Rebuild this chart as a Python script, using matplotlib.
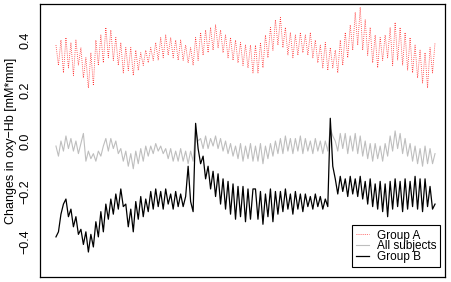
import numpy as np
import matplotlib
matplotlib.use("Agg")
import matplotlib.pyplot as plt

plt.rcParams['font.family'] = ['Liberation Sans', 'DejaVu Sans']

# mean oxy-Hb change per sample
group_a = [
    0.38, 0.30, 0.40, 0.27, 0.41, 0.29, 0.39, 0.26, 0.40, 0.30,
    0.37, 0.25, 0.33, 0.21, 0.35, 0.22, 0.40, 0.30, 0.42, 0.31,
    0.45, 0.33, 0.44, 0.32, 0.41, 0.30, 0.39, 0.27, 0.37, 0.28,
    0.37, 0.26, 0.36, 0.28, 0.35, 0.30, 0.36, 0.31, 0.37, 0.32,
    0.39, 0.32, 0.41, 0.33, 0.42, 0.34, 0.41, 0.33, 0.40, 0.32,
    0.40, 0.32, 0.38, 0.31, 0.37, 0.30, 0.41, 0.32, 0.43, 0.34,
    0.44, 0.35, 0.45, 0.36, 0.46, 0.37, 0.44, 0.35, 0.42, 0.33,
    0.41, 0.32, 0.40, 0.31, 0.39, 0.30, 0.38, 0.29, 0.38, 0.27,
    0.38, 0.27, 0.39, 0.29, 0.42, 0.33, 0.45, 0.36, 0.48, 0.38,
    0.49, 0.37, 0.45, 0.34, 0.43, 0.33, 0.42, 0.34, 0.43, 0.35,
    0.42, 0.34, 0.43, 0.33, 0.40, 0.31, 0.38, 0.29, 0.39, 0.28,
    0.37, 0.29, 0.36, 0.27, 0.40, 0.30, 0.43, 0.33, 0.46, 0.36,
    0.51, 0.38, 0.53, 0.36, 0.48, 0.34, 0.45, 0.31, 0.42, 0.29,
    0.41, 0.32, 0.42, 0.33, 0.45, 0.30, 0.47, 0.32, 0.45, 0.30,
    0.43, 0.28, 0.41, 0.27, 0.38, 0.25, 0.36, 0.23, 0.35, 0.21,
    0.37, 0.27, 0.39,
]

all_subjects = [
    -0.02, -0.06, 0.00, -0.04, 0.02, -0.03, 0.01, -0.04, 0.00, -0.05,
    -0.01, 0.03, -0.08, -0.04, -0.07, -0.05, -0.08, -0.04, -0.06, -0.02,
    0.01, -0.04, 0.01, -0.03, 0.00, -0.05, -0.03, -0.08, -0.04, -0.10,
    -0.05, -0.11, -0.04, -0.09, -0.03, -0.08, -0.02, -0.06, -0.02, -0.05,
    -0.01, -0.04, -0.02, -0.05, -0.03, -0.07, -0.03, -0.08, -0.04, -0.08,
    -0.03, -0.08, -0.04, -0.09, -0.04, -0.08, 0.04, 0.00, 0.01, -0.03,
    0.02, -0.03, 0.01, -0.02, 0.02, -0.03, 0.01, -0.04, 0.00, -0.05,
    -0.01, -0.06, -0.02, -0.07, -0.01, -0.08, -0.02, -0.07, -0.01, -0.08,
    -0.02, -0.08, -0.01, -0.09, -0.02, -0.07, -0.01, -0.06, 0.00, -0.05,
    0.01, -0.05, 0.02, -0.04, 0.01, -0.05, 0.01, -0.04, 0.02, -0.05,
    0.01, -0.04, 0.00, -0.05, 0.01, -0.04, 0.00, -0.05, 0.00, -0.04,
    0.05, 0.02, 0.00, -0.04, 0.03, -0.03, 0.03, -0.05, 0.02, -0.04,
    0.03, -0.05, 0.02, -0.06, 0.00, -0.07, -0.01, -0.08, -0.01, -0.07,
    -0.02, -0.08, -0.01, -0.06, 0.02, -0.04, 0.04, -0.03, 0.03, -0.05,
    0.01, -0.06, -0.01, -0.08, -0.02, -0.09, -0.03, -0.10, -0.02, -0.09,
    -0.03, -0.09, -0.05,
]

group_b = [
    -0.38, -0.36, -0.29, -0.25, -0.23, -0.30, -0.27, -0.34, -0.30, -0.37,
    -0.35, -0.41, -0.36, -0.44, -0.37, -0.42, -0.32, -0.38, -0.28, -0.36,
    -0.25, -0.31, -0.23, -0.29, -0.21, -0.27, -0.19, -0.26, -0.25, -0.34,
    -0.27, -0.36, -0.24, -0.31, -0.22, -0.30, -0.23, -0.28, -0.20, -0.27,
    -0.19, -0.26, -0.20, -0.27, -0.19, -0.25, -0.21, -0.27, -0.20, -0.26,
    -0.21, -0.26, -0.22, -0.10, -0.24, -0.28, 0.07, -0.03, -0.09, -0.06,
    -0.15, -0.10, -0.19, -0.12, -0.22, -0.13, -0.25, -0.15, -0.27, -0.16,
    -0.29, -0.17, -0.31, -0.18, -0.30, -0.18, -0.32, -0.19, -0.31, -0.19,
    -0.19, -0.31, -0.20, -0.33, -0.21, -0.30, -0.19, -0.32, -0.20, -0.29,
    -0.20, -0.28, -0.19, -0.27, -0.21, -0.29, -0.20, -0.27, -0.21, -0.28,
    -0.21, -0.26, -0.22, -0.27, -0.21, -0.26, -0.22, -0.27, -0.23, -0.26,
    0.09, -0.10, -0.15, -0.21, -0.14, -0.20, -0.15, -0.22, -0.14, -0.21,
    -0.15, -0.22, -0.14, -0.23, -0.16, -0.25, -0.15, -0.26, -0.17, -0.27,
    -0.16, -0.28, -0.17, -0.30, -0.16, -0.27, -0.15, -0.26, -0.16, -0.28,
    -0.15, -0.27, -0.16, -0.26, -0.14, -0.27, -0.15, -0.28, -0.15, -0.26,
    -0.18, -0.27, -0.25,
]

y_ticks = [-0.4, -0.2, 0.0, 0.2, 0.4]

x = np.arange(len(group_a))

fig = plt.figure(figsize=(4.52, 2.82), dpi=100)
ax = fig.add_axes([40 / 452, 5 / 282, 405 / 452, 273 / 282])

ax.plot(x, group_a, color='#ff3030', lw=0.6, ls=(0, (1, 1.5)), label='Group A')
ax.plot(x, all_subjects, color='#bebebe', lw=0.8, label='All subjects')
ax.plot(x, group_b, color='black', lw=0.9, label='Group B')

ax.set_xlim(-6.4, len(x) + 3)
ax.set_ylim(-0.539, 0.543)
ax.set_xticks([])
ax.set_yticks(y_ticks)
ax.tick_params(axis='y', length=0, pad=6, labelsize=9, labelrotation=90)
for lab in ax.get_yticklabels():
    lab.set_va('center')
ax.set_ylabel('Changes in oxy\u2212Hb [mM*mm]', fontsize=9)
ax.yaxis.set_label_coords(-0.058, 0.5)
for s in ax.spines.values():
    s.set_linewidth(0.9)

leg = ax.legend(loc='lower right', bbox_to_anchor=(0.988, 0.037),
                borderaxespad=0, fontsize=8.5, labelspacing=-0.12,
                handlelength=1.15, handletextpad=0.6, borderpad=0.35,
                fancybox=False, framealpha=1)
leg.get_frame().set_edgecolor('black')
leg.get_frame().set_linewidth(0.8)

fig.savefig('out.png', dpi=100)
